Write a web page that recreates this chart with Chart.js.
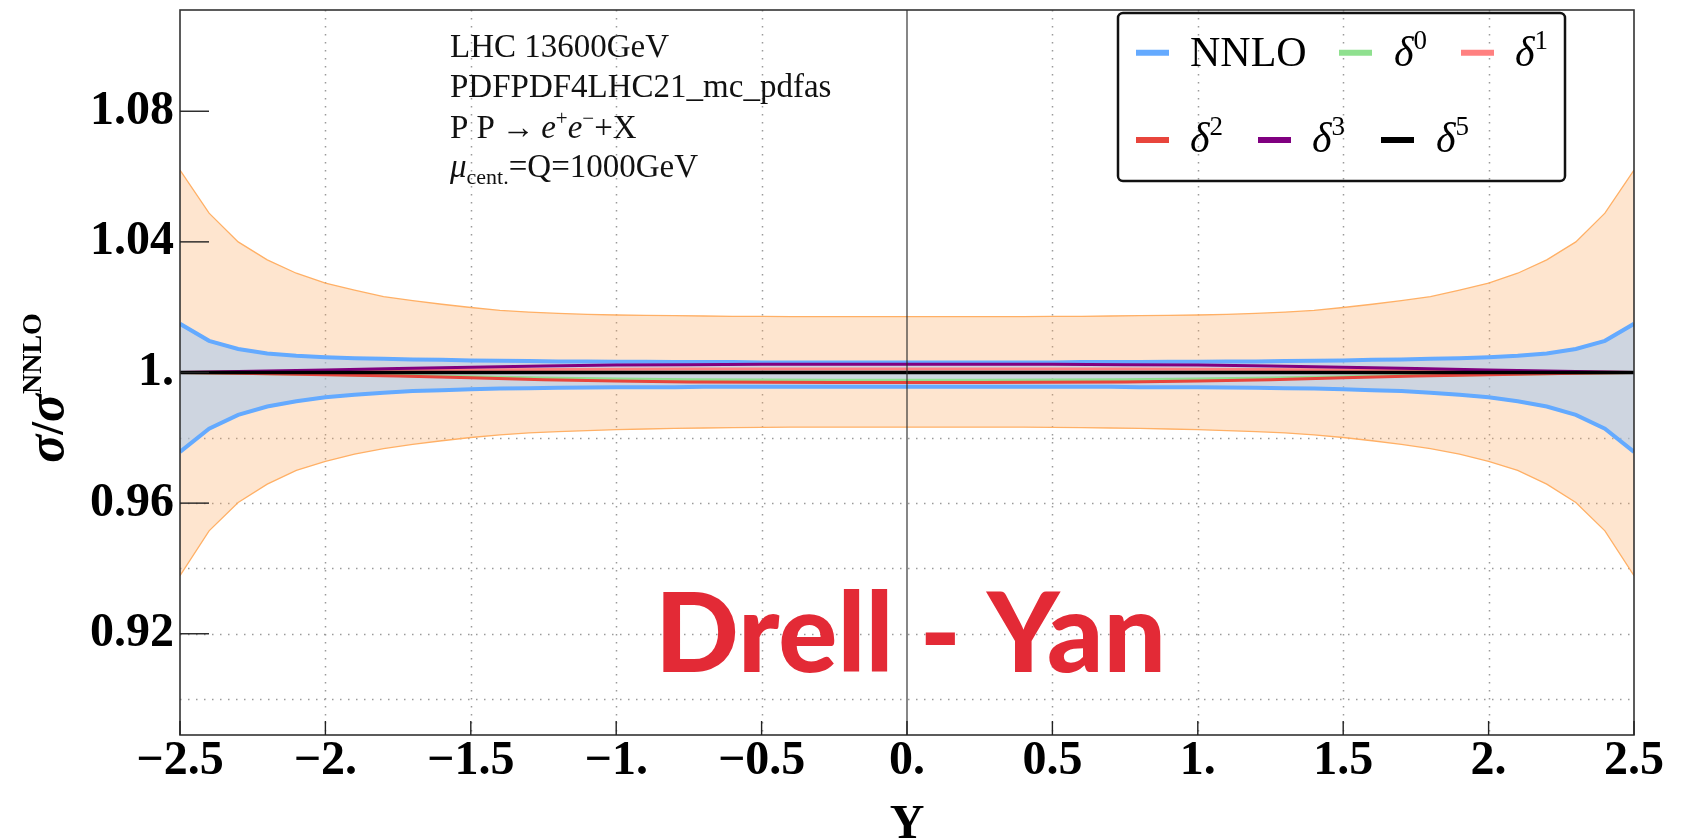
<!DOCTYPE html>
<html>
<head>
<meta charset="utf-8">
<script src="https://cdn.jsdelivr.net/npm/chart.js@4.4.0/dist/chart.umd.min.js"></script>
<style>
html,body{margin:0;padding:0;background:#fff;overflow:hidden}
#wrap{width:1695px;height:840px;position:relative}
</style>
</head>
<body>
<div id="wrap"><canvas id="c" width="1695" height="840"></canvas></div>
<script>
// ---------------- data ----------------
const rapidity = [-2.5,-2.4,-2.3,-2.2,-2.1,-2.0,-1.9,-1.8,-1.7,-1.6,-1.5,-1.4,-1.3,-1.2,-1.1,-1.0,-0.9,-0.8,-0.7,-0.6,-0.5,-0.4,-0.3,-0.2,-0.1,0,
  0.1,0.2,0.3,0.4,0.5,0.6,0.7,0.8,0.9,1.0,1.1,1.2,1.3,1.4,1.5,1.6,1.7,1.8,1.9,2.0,2.1,2.2,2.3,2.4,2.5];

const scaleBandUpper = [1.0620,1.0488,1.0400,1.0345,1.0304,1.0274,1.0252,1.0232,1.0220,1.0209,1.0199,1.0190,1.0185,1.0181,1.0178,1.0176,1.0175,1.0174,1.0173,1.0172,1.0172,1.0171,1.0171,1.0171,1.0171,1.0171,
  1.0171,1.0171,1.0171,1.0171,1.0172,1.0172,1.0173,1.0174,1.0175,1.0176,1.0178,1.0181,1.0185,1.0190,1.0199,1.0209,1.0220,1.0232,1.0252,1.0274,1.0304,1.0345,1.0400,1.0488,1.0620];

const scaleBandLower = [0.9378,0.9515,0.9602,0.9658,0.9700,0.9728,0.9750,0.9767,0.9780,0.9791,0.9801,0.9809,0.9815,0.9819,0.9822,0.9825,0.9827,0.9829,0.9830,0.9831,0.9832,0.9833,0.9833,0.9833,0.9833,0.9833,
  0.9833,0.9833,0.9833,0.9833,0.9832,0.9831,0.9830,0.9829,0.9827,0.9825,0.9822,0.9819,0.9815,0.9809,0.9801,0.9791,0.9780,0.9767,0.9750,0.9728,0.9700,0.9658,0.9602,0.9515,0.9378];

const nnloUpper = [1.0149,1.0097,1.0072,1.0058,1.0051,1.0047,1.0044,1.0042,1.0040,1.0039,1.0037,1.0036,1.0035,1.0034,1.0034,1.0033,1.0033,1.0032,1.0032,1.0032,1.0031,1.0031,1.0031,1.0031,1.0031,1.0031,
  1.0031,1.0031,1.0031,1.0031,1.0031,1.0032,1.0032,1.0032,1.0033,1.0033,1.0034,1.0034,1.0035,1.0036,1.0037,1.0039,1.0040,1.0042,1.0044,1.0047,1.0051,1.0058,1.0072,1.0097,1.0149];

const nnloLower = [0.9757,0.9828,0.9870,0.9896,0.9912,0.9924,0.9932,0.9938,0.9943,0.9946,0.9949,0.9951,0.9952,0.9953,0.9954,0.9955,0.9955,0.9955,0.9956,0.9956,0.9956,0.9956,0.9956,0.9956,0.9956,0.9956,
  0.9956,0.9956,0.9956,0.9956,0.9956,0.9956,0.9956,0.9955,0.9955,0.9955,0.9954,0.9953,0.9952,0.9951,0.9949,0.9946,0.9943,0.9938,0.9932,0.9924,0.9912,0.9896,0.9870,0.9828,0.9757];

const rapidityCoarse = [-2.5,-2.25,-2.0,-1.75,-1.5,-1.25,-1.0,-0.75,-0.5,-0.25,0,0.25,0.5,0.75,1.0,1.25,1.5,1.75,2.0,2.25,2.5];

const delta0 = [1.0000,0.9997,0.9994,0.9991,0.9987,0.9983,0.9980,0.9978,0.9977,0.9976,0.9976,0.9976,0.9977,0.9978,0.9980,0.9983,0.9987,0.9991,0.9994,0.9997,1.0000];
const delta1 = [1.0000,1.0002,1.0004,1.0006,1.0008,1.0009,1.0010,1.0011,1.0011,1.0011,1.0011,1.0011,1.0011,1.0011,1.0010,1.0009,1.0008,1.0006,1.0004,1.0002,1.0000];
const delta2 = [1.0000,0.9997,0.9993,0.9989,0.9984,0.9978,0.9974,0.9971,0.9970,0.9969,0.9969,0.9969,0.9970,0.9971,0.9974,0.9978,0.9984,0.9989,0.9993,0.9997,1.0000];
const delta3 = [1.0000,1.0004,1.0008,1.0012,1.0016,1.0020,1.0023,1.0024,1.0025,1.0025,1.0025,1.0025,1.0025,1.0024,1.0023,1.0020,1.0016,1.0012,1.0008,1.0004,1.0000];
const delta5 = [1.0000,1.0000,1.0000,1.0000,1.0000,1.0000,1.0000,1.0000,1.0000,1.0000,1.0000,1.0000,1.0000,1.0000,1.0000,1.0000,1.0000,1.0000,1.0000,1.0000,1.0000];

const seriesNames = ['NNLO','δ0','δ1','δ2','δ3','δ5'];
const seriesColors = ['#64aaff','#8fe08f','#ff8080','#e8453c','#800080','#000000'];

const xTickValues = [-2.5,-2.0,-1.5,-1.0,-0.5,0,0.5,1.0,1.5,2.0,2.5];
const xTickLabels = ['\u22122.5','\u22122.','\u22121.5','\u22121.','\u22120.5','0.','0.5','1.','1.5','2.','2.5'];
const yTickValues = [0.92,0.96,1.0,1.04,1.08];
const yTickLabels = ['0.92','0.96','1.','1.04','1.08'];
const xGridValues = [-2.0,-1.5,-1.0,-0.5,0.5,1.0,1.5,2.0];
const yGridValues = [0.90,0.92,0.94,0.96,0.98];

const infoLines = ['LHC 13600GeV','PDFPDF4LHC21_mc_pdfas','P P \u2192 e+e\u2212+X','\u03bccent.=Q=1000GeV'];
const processLabel = 'Drell - Yan';

// ---------------- helpers ----------------
const SERIF = '"Liberation Serif","Times New Roman",serif';
const pts = (xs, ys) => xs.map((x, i) => ({x: x, y: ys[i]}));

function rich(ctx, x, y, segs) {
  let cx = x;
  for (const s of segs) {
    ctx.font = s[1];
    ctx.fillText(s[0], cx, y + (s[2] || 0));
    cx += ctx.measureText(s[0]).width;
  }
  return cx;
}
function richWidth(ctx, segs) {
  let w = 0;
  for (const s of segs) { ctx.font = s[1]; w += ctx.measureText(s[0]).width; }
  return w;
}
function seg(ctx, x1, y1, x2, y2) { ctx.beginPath(); ctx.moveTo(x1, y1); ctx.lineTo(x2, y2); ctx.stroke(); }

const decor = {
  id: 'decor',
  beforeDatasetsDraw(chart) {
    const {ctx, chartArea: a, scales: {x, y}} = chart;
    ctx.save();
    ctx.strokeStyle = '#9a9a9a';
    ctx.lineWidth = 1.5;
    ctx.setLineDash([1.5, 6.5]);
    xGridValues.forEach(v => { const px = Math.round(x.getPixelForValue(v)) + 0.5; seg(ctx, px, a.top, px, a.bottom); });
    yGridValues.forEach(v => { const py = Math.round(y.getPixelForValue(v)) + 0.5; seg(ctx, a.left, py, a.right, py); });
    ctx.restore();
  },
  afterDatasetsDraw(chart) {
    const {ctx, chartArea: a, scales: {x, y}} = chart;
    ctx.save();
    // zero line
    ctx.strokeStyle = 'rgba(40,40,40,0.8)';
    ctx.lineWidth = 1.4;
    const x0 = x.getPixelForValue(0);
    seg(ctx, x0, a.top, x0, a.bottom);
    // frame
    ctx.strokeStyle = '#333';
    ctx.lineWidth = 1.6;
    ctx.strokeRect(a.left, a.top, a.right - a.left, a.bottom - a.top);
    // inward ticks
    ctx.lineWidth = 1.4;
    ctx.strokeStyle = '#222';
    yTickValues.forEach(v => { const py = y.getPixelForValue(v); seg(ctx, a.left, py, a.left + 29, py); });
    xTickValues.forEach(v => { const px = x.getPixelForValue(v); seg(ctx, px, a.bottom, px, a.bottom - 14); });
    // big process label
    ctx.fillStyle = '#e32a36';
    ctx.font = '900 110px Lato, "Open Sans", sans-serif';
    const w = ctx.measureText(processLabel).width;
    const target = 511;
    ctx.translate(910.5, 672);
    ctx.scale(target / w, 1);
    ctx.textAlign = 'center';
    ctx.textBaseline = 'alphabetic';
    ctx.fillText(processLabel, 0, 0);
    ctx.restore();
  },
  afterDraw(chart) {
    const {ctx} = chart;
    ctx.save();
    ctx.fillStyle = '#111';
    ctx.textBaseline = 'alphabetic';
    const f = `33px ${SERIF}`, fi = `italic 33px ${SERIF}`, fs = `21px ${SERIF}`;
    rich(ctx, 450, 57, [[infoLines[0], f]]);
    rich(ctx, 450, 97, [[infoLines[1], f]]);
    rich(ctx, 450, 138, [['P P\u2009\u2192\u2009', f], ['e', fi], ['+', fs, -13], ['e', fi], ['\u2212', fs, -13], ['+X', f]]);
    rich(ctx, 450, 177, [['\u03bc', fi], ['cent.', `22px ${SERIF}`, 7], ['=Q=1000GeV', f]]);

    // y-axis title (rotated)
    ctx.save();
    ctx.fillStyle = '#000';
    const ys = [['\u03c3', `italic bold 52px ${SERIF}`], ['/', `bold 46px ${SERIF}`], ['\u03c3', `italic bold 52px ${SERIF}`], ['NNLO', `bold 28px ${SERIF}`, -22]];
    const tw = richWidth(ctx, ys);
    ctx.translate(63, 388);
    ctx.rotate(-Math.PI / 2);
    rich(ctx, -tw / 2, 0, ys);
    ctx.restore();

    // legend
    ctx.strokeStyle = '#111';
    ctx.lineWidth = 2.5;
    ctx.beginPath();
    if (ctx.roundRect) ctx.roundRect(1118, 13, 447, 168, 5); else ctx.rect(1118, 13, 447, 168);
    ctx.stroke();
    const slots = [
      {sx: 1136, tx: 1190, row: 0}, {sx: 1339, tx: 1394, row: 0}, {sx: 1461, tx: 1515, row: 0},
      {sx: 1136, tx: 1190, row: 1}, {sx: 1258, tx: 1312, row: 1}, {sx: 1381, tx: 1436, row: 1}
    ];
    seriesNames.forEach((name, i) => {
      const s = slots[i];
      const lineY = s.row === 0 ? 52.7 : 140;
      const base = s.row === 0 ? 66 : 152;
      ctx.strokeStyle = seriesColors[i];
      ctx.lineWidth = 6;
      seg(ctx, s.sx, lineY, s.sx + 33, lineY);
      ctx.fillStyle = '#000';
      if (name === 'NNLO') {
        rich(ctx, s.tx, base, [[name, `42px ${SERIF}`]]);
      } else {
        rich(ctx, s.tx, base, [[name.charAt(0), `italic 42px ${SERIF}`], [name.slice(1), `27px ${SERIF}`, -17]]);
      }
    });
    ctx.restore();
  }
};

const xTickFont = {family: SERIF, size: 48, weight: 'bold', lineHeight: 1};
const yTickFont = {family: SERIF, size: 48, weight: 'bold', lineHeight: 0.35};

new Chart(document.getElementById('c'), {
  type: 'line',
  data: {
    datasets: [
      {label: 'scale band upper', data: pts(rapidity, scaleBandUpper), borderColor: '#ffb066', borderWidth: 1.3, backgroundColor: 'rgba(252,170,95,0.3)', fill: '+1', order: 10},
      {label: 'scale band lower', data: pts(rapidity, scaleBandLower), borderColor: '#ffb066', borderWidth: 1.3, fill: false, order: 9},
      {label: 'NNLO upper', data: pts(rapidity, nnloUpper), borderColor: seriesColors[0], borderWidth: 4, backgroundColor: 'rgba(158,197,241,0.5)', fill: '+1', order: 8},
      {label: 'NNLO lower', data: pts(rapidity, nnloLower), borderColor: seriesColors[0], borderWidth: 4, fill: false, order: 7},
      {label: seriesNames[1], data: pts(rapidityCoarse, delta0), borderColor: seriesColors[1], borderWidth: 3, fill: false, order: 6},
      {label: seriesNames[2], data: pts(rapidityCoarse, delta1), borderColor: seriesColors[2], borderWidth: 3, fill: false, order: 5},
      {label: seriesNames[3], data: pts(rapidityCoarse, delta2), borderColor: seriesColors[3], borderWidth: 3, fill: false, order: 4},
      {label: seriesNames[4], data: pts(rapidityCoarse, delta3), borderColor: seriesColors[4], borderWidth: 3, fill: false, order: 3},
      {label: seriesNames[5], data: pts(rapidityCoarse, delta5), borderColor: seriesColors[5], borderWidth: 3.5, fill: false, order: 1}
    ]
  },
  options: {
    responsive: false,
    animation: false,
    devicePixelRatio: 1,
    layout: {padding: {top: 10, right: 61, bottom: 0, left: 0}},
    plugins: {legend: {display: false}, tooltip: {enabled: false}, filler: {propagate: false}},
    elements: {point: {radius: 0}, line: {tension: 0}},
    scales: {
      x: {
        type: 'linear', min: -2.5, max: 2.5,
        afterFit: s => { s.height = 105; s.paddingLeft = 0; s.paddingRight = 0; },
        afterBuildTicks: s => { s.ticks = xTickValues.map(v => ({value: v})); },
        ticks: {autoSkip: false, maxRotation: 0, minRotation: 0, padding: 3, color: '#000', font: xTickFont,
                callback: (v, i) => xTickLabels[i]},
        grid: {display: false, drawTicks: false},
        border: {display: false},
        title: {display: true, text: 'Y', color: '#000', padding: 0,
                font: {family: SERIF, size: 48, weight: 'bold', lineHeight: 0.6}}
      },
      y: {
        type: 'linear', min: 0.889, max: 1.111,
        afterFit: s => { s.width = 180; s.paddingTop = 0; s.paddingBottom = 0; },
        afterBuildTicks: s => { s.ticks = yTickValues.map(v => ({value: v})); },
        ticks: {autoSkip: false, padding: 6, color: '#000', font: yTickFont,
                callback: (v, i) => yTickLabels[i]},
        grid: {display: false, drawTicks: false},
        border: {display: false}
      }
    }
  },
  plugins: [decor]
});
</script>
</body>
</html>
